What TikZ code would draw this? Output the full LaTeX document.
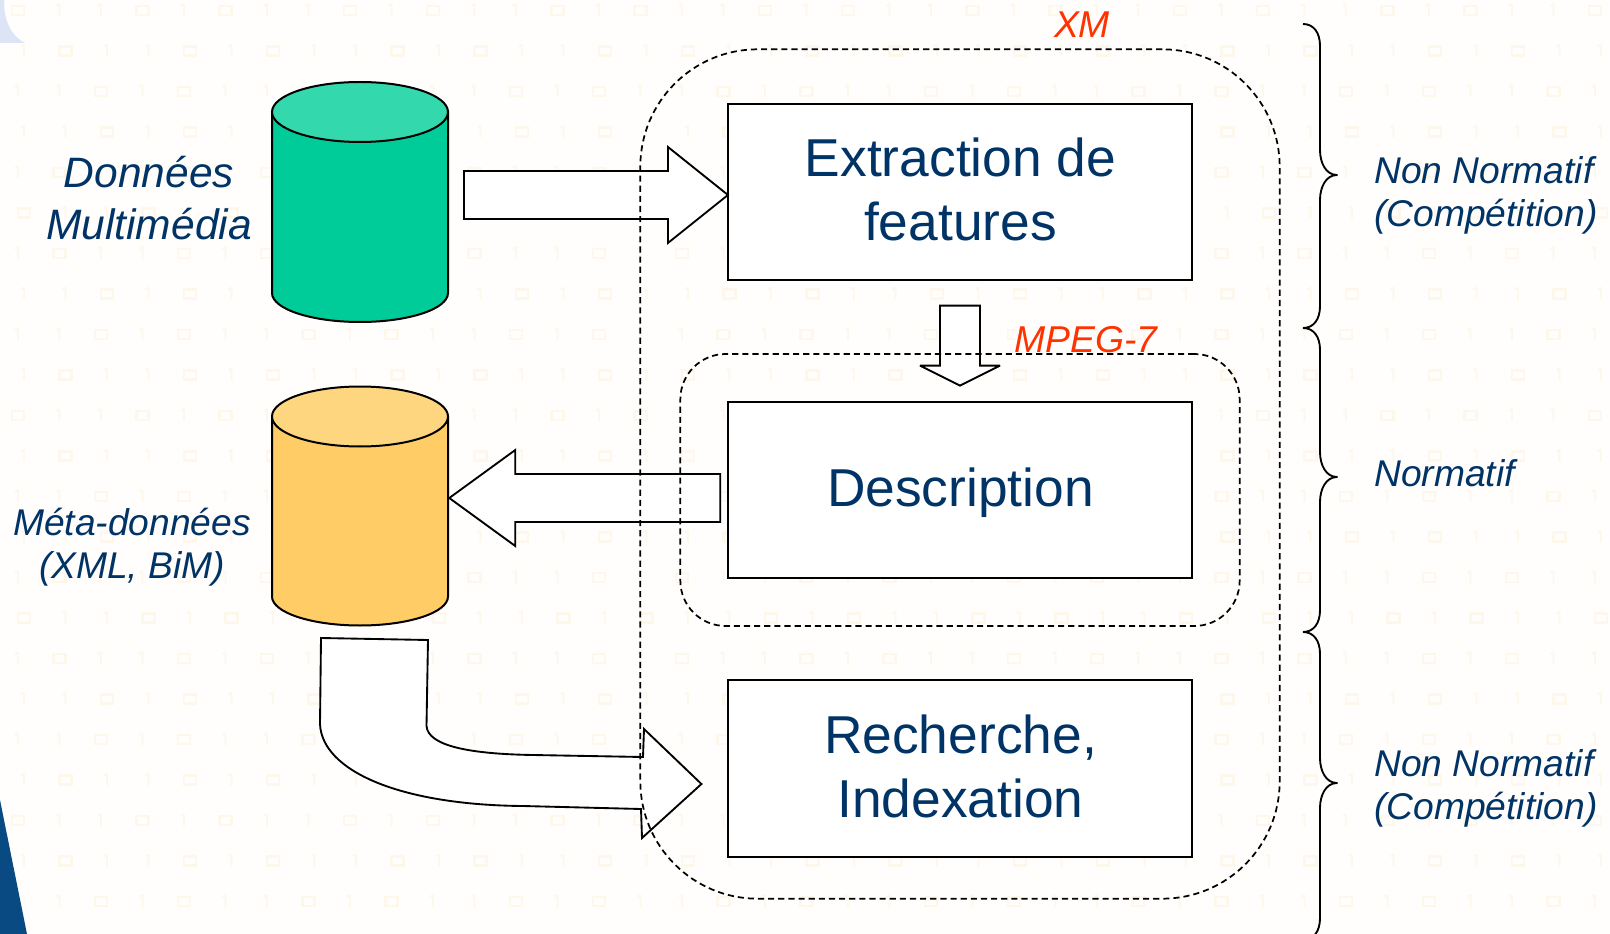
\documentclass[tikz,border=0pt]{standalone}
\usepackage{fontspec}
\setmainfont{Liberation Sans}
\usetikzlibrary{calc}
\definecolor{txtblue}{HTML}{003366}
\definecolor{xmred}{HTML}{FF3300}
\definecolor{bgcream}{HTML}{FFFEFC}
\definecolor{patt}{HTML}{FEF8EC}
\definecolor{greenbody}{HTML}{00CC99}
\definecolor{greentop}{HTML}{33D9AD}
\definecolor{yellowbody}{HTML}{FFCC66}
\definecolor{yellowtop}{HTML}{FFD680}
\definecolor{swoosh}{HTML}{0A4A82}
\definecolor{cornerblue}{HTML}{DCE4F6}
\newcommand{\bracepath}[3]{%
  \draw[bracestyle] (1303,#1) .. controls +(11,0) and +(0,-13) .. (1320,#1+22)
    -- (1320,#2-25) .. controls +(0,13) and +(-11,0) .. (1337,#2)
    .. controls +(-11,0) and +(0,-13) .. (1320,#2+25)
    -- (1320,#3-22) .. controls +(0,13) and +(11,0) .. (1303,#3);}
\tikzset{
  processbox/.style={draw=black,line width=1.6pt,fill=white,minimum width=348pt,minimum height=132.5pt,inner sep=0pt},
  boxtext/.style={text=txtblue,align=center,inner sep=0pt,font=\fontsize{40pt}{48pt}\selectfont},
  blockarrow/.style={draw=black,line width=1.4pt,fill=white,line join=miter,miter limit=3},
  cylspace/.style={minimum width=132pt,minimum height=180pt,inner sep=0pt},
  cylstyle/.style={draw=black,line width=1.5pt},
  dashedzone/.style={draw=black,line width=1.3pt,dash pattern=on 4.6pt off 3pt,inner sep=0pt},
  sidelabel/.style={text=txtblue,align=left,anchor=west,inner sep=0pt,font=\fontsize{27.9pt}{32.3pt}\selectfont\itshape},
  leftlabel/.style={text=txtblue,align=center,inner sep=0pt},
  zonelabel/.style={text=xmred,inner sep=0pt,font=\fontsize{28pt}{32pt}\selectfont\itshape},
  bracestyle/.style={draw=black,line width=1.4pt,line join=round},
  pattstroke/.style={draw=patt,line width=2pt}
}
\begin{document}
\begin{tikzpicture}[x=0.75pt,y=-0.75pt]
\useasboundingbox (0,0) rectangle (1610,934);
\fill[bgcream] (0,0) rectangle (1610,934);
% faint background pattern
\foreach \r in {0,...,22}{
  \foreach \c in {0,...,38}{
    \pgfmathtruncatemacro{\k}{mod(\c*7+\r*\r*3+\r*5,5)}
    \pgfmathsetmacro{\px}{18+\c*41.5+mod(\r*3,2)*6}
    \pgfmathsetmacro{\py}{10+\r*40.5}
    \ifnum\k<2
      \draw[pattstroke] (\px-6,\py-4) rectangle (\px+6,\py+5);
    \else
      \draw[pattstroke,line width=1.4pt] (\px,\py-6) -- (\px,\py+6) (\px-3,\py-4) -- (\px,\py-6);
    \fi
  }
}
% slide decorations
\fill[cornerblue] (0,0) -- (4,0) .. controls (4,20) and (10,35) .. (25,43) -- (0,43) -- cycle;
\fill[swoosh] (0,800) -- (27,934) -- (0,934) -- cycle;

% process boxes
\node[processbox] (ex) at (960,192) {};
\node[processbox] (desc) at (960,490) {};
\node[processbox] (rech) at (960,768.5) {};
\node[boxtext] (extext) at (960.5,189) {Extraction de\\features};
\node[boxtext] (desctext) at (960.5,492.6) {Description};
\node[boxtext] (rechtext) at (960.5,766.5) {Recherche,\\Indexation};

% cylinders
\node[cylspace] (data) at (360,202) {};
\node[cylspace] (meta) at (360,505.5) {};
\draw[cylstyle,fill=greenbody] (272,112) -- (272,293) arc[start angle=180,end angle=0,x radius=88,y radius=29] -- (448,112) -- cycle;
\draw[cylstyle,fill=greentop] (360,112) ellipse[x radius=88,y radius=30];
\draw[cylstyle,fill=yellowbody] (272,416.5) -- (272,596.5) arc[start angle=180,end angle=0,x radius=88,y radius=29] -- (448,416.5) -- cycle;
\draw[cylstyle,fill=yellowtop] (360,416.5) ellipse[x radius=88,y radius=30];

% block arrows
\draw[blockarrow] ($(ex.west)+(1,3)$) -- ++(-60,-48) -- ++(0,24) -- ++(-204,0) -- ++(0,48) -- ++(204,0) -- ++(0,24) -- cycle;
\draw[blockarrow] ($(desc.north)+(0,-15)$) -- ++(-40,-20) -- ++(20,0) -- ++(0,-60) -- ++(40,0) -- ++(0,60) -- ++(20,0) -- cycle;
\draw[blockarrow] ($(meta.east)+(1,-7.5)$) -- ++(66,-48) -- ++(0,24) -- ++(205,0) -- ++(0,48) -- ++(-205,0) -- ++(0,24) -- cycle;
\coordinate (curvetip) at ($(rech.west)+(-25.5,15.5)$);
\draw[blockarrow] (curvetip) -- (644,729) -- (643,757) -- (533,755)
  .. controls (470,754) and (428,746) .. (426.5,726) -- (428,640) -- (321,638) -- (320,724)
  .. controls (322,771) and (400,805) .. (523,806) -- (641,809) -- (642,838) -- cycle;

% dashed zones
\node[dashedzone,rounded corners=88pt,minimum width=479.5pt,minimum height=637pt] (xmzone) at (960,474) {};
\node[dashedzone,rounded corners=34pt,minimum width=419.5pt,minimum height=204pt] (mpegzone) at (960,490) {};

% braces
\bracepath{24}{175}{328}
\bracepath{328}{477}{632}
\bracepath{632}{783}{940}

% labels
\node[leftlabel,font=\fontsize{31.9pt}{39.3pt}\selectfont\itshape] (lbldata) at (149,198) {Données\\Multimédia};
\node[leftlabel,font=\fontsize{27.9pt}{32.3pt}\selectfont\itshape] (lblmeta) at (132,547) {Méta-données\\(XML, BiM)};
\node[zonelabel] (lblxm) at (1082,25) {XM};
\node[zonelabel] (lblmpeg) at (1086,339.5) {MPEG-7};
\node[sidelabel] (lbla) at (1374,195) {Non Normatif\\(Compétition)};
\node[sidelabel] (lblb) at (1374,473) {Normatif};
\node[sidelabel] (lblc) at (1374,788) {Non Normatif\\(Compétition)};
\end{tikzpicture}
\end{document}
